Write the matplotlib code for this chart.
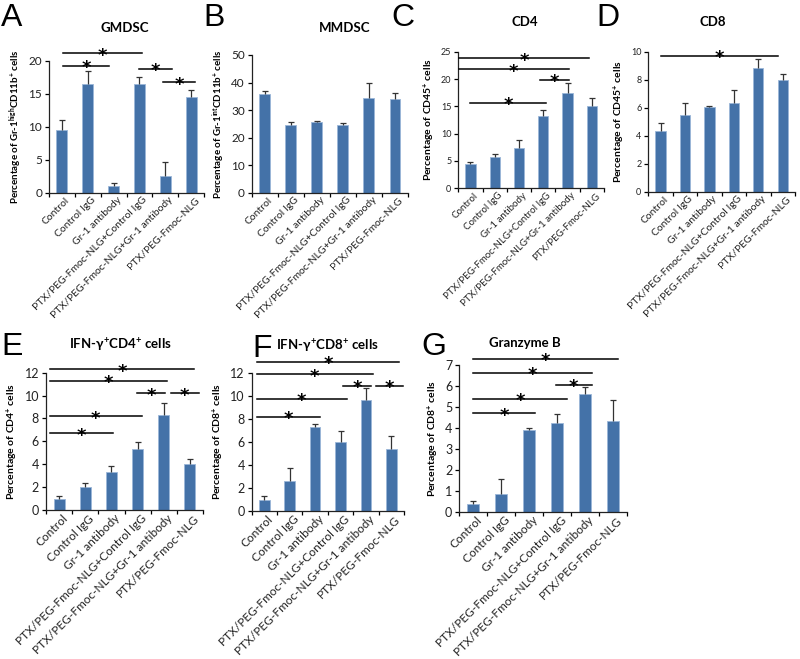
import numpy as np
import matplotlib
matplotlib.use("Agg")
import matplotlib.pyplot as plt

plt.rcParams['font.family'] = ['Lato', 'DejaVu Sans']
plt.rcParams['mathtext.fontset'] = 'custom'
plt.rcParams['mathtext.rm'] = 'Lato'
plt.rcParams['mathtext.bf'] = 'Lato:bold'
plt.rcParams['mathtext.it'] = 'Lato:italic'

groups = ['Control', 'Control IgG', 'Gr-1 antibody',
          'PTX/PEG-Fmoc-NLG+Control IgG',
          'PTX/PEG-Fmoc-NLG+Gr-1 antibody',
          'PTX/PEG-Fmoc-NLG']

# mean values and upper error (SD) per panel
gmdsc = [9.5, 16.5, 1.0, 16.5, 2.6, 14.5]
gmdsc_err = [1.5, 2.0, 0.5, 1.0, 2.0, 1.0]
mmdsc = [36.0, 24.5, 25.7, 24.5, 34.5, 34.2]
mmdsc_err = [1.0, 1.2, 0.4, 0.7, 5.5, 2.0]
cd4 = [4.4, 5.8, 7.4, 13.3, 17.4, 15.1]
cd4_err = [0.4, 0.4, 1.5, 1.0, 1.8, 1.5]
cd8 = [4.3, 5.5, 6.05, 6.35, 8.8, 8.0]
cd8_err = [0.6, 0.85, 0.1, 0.9, 0.65, 0.4]
ifn_cd4 = [0.96, 2.04, 3.35, 5.3, 8.3, 4.0]
ifn_cd4_err = [0.29, 0.35, 0.52, 0.67, 1.08, 0.44]
ifn_cd8 = [0.9, 2.6, 7.34, 6.03, 9.64, 5.4]
ifn_cd8_err = [0.4, 1.1, 0.26, 0.93, 1.06, 1.15]
granzyme = [0.37, 0.83, 3.88, 4.23, 5.6, 4.33]
granzyme_err = [0.15, 0.73, 0.1, 0.43, 0.35, 1.0]

# significance bars: (start, end, height) in bar units / data units
sig_a = [(0.03, 3.1, 21.1), (0.03, 1.83, 19.2), (2.98, 4.25, 18.8), (3.9, 5.17, 16.7)]
sig_c = [(-0.48, 4.9, 23.8), (-0.48, 4.05, 21.8), (2.88, 4.05, 19.8), (0.0, 3.1, 15.7)]
sig_d = [(0.0, 4.8, 9.69)]
sig_e = [(-0.36, 5.17, 12.3), (-0.36, 4.11, 11.3), (2.97, 4.05, 10.2),
         (4.27, 5.33, 10.2), (-0.36, 3.16, 8.2), (-0.36, 2.07, 6.7)]
sig_f = [(-0.3, 5.32, 13.0), (-0.3, 4.27, 11.9), (3.1, 4.21, 10.9),
         (4.4, 5.48, 10.9), (-0.3, 3.25, 9.76), (-0.3, 2.21, 8.2)]
sig_g = [(0.0, 5.2, 7.28), (0.0, 4.26, 6.63), (2.95, 4.26, 6.04),
         (0.0, 3.36, 5.4), (0.0, 2.2, 4.69)]

W, H = 800, 659
fig = plt.figure(figsize=(8, 6.59), dpi=100)

BAR = '#4472A8'
EDGE = '#9AB6D8'


def make_ax(x0, x1, ytop, ybot):
    return fig.add_axes([x0 / W, (H - ybot) / H, (x1 - x0) / W, (ybot - ytop) / H])


def panel(box, vals, errs, ymax, ystep, title, ylabel, letter, sigs,
          tick_fs=8.5, lab_fs=7.5, cat_fs=8, title_xy=None, letter_xy=None):
    ax = make_ax(*box)
    x = np.arange(len(vals))
    bars = ax.bar(x, vals, width=0.42, color=BAR, edgecolor=EDGE, linewidth=0.6,
                  yerr=[np.zeros(len(errs)), errs],
                  error_kw=dict(ecolor='#333333', elinewidth=0.9, capsize=2, capthick=0.9),
                  zorder=2)
    caps = bars.errorbar.lines[1]
    if len(caps) > 1:
        caps[0].set_visible(False)
    ax.set_xlim(-0.5, len(vals) - 0.5)
    ax.set_ylim(0, ymax)
    ax.set_yticks(np.arange(0, ymax + ystep / 2, ystep))
    ax.set_xticks(np.arange(-0.5, len(vals), 1.0))
    ax.set_xticklabels([])
    ax.set_xticks(x + 0.12, minor=True)
    ax.set_xticklabels(groups, minor=True, rotation=45, ha='right',
                       rotation_mode='anchor', fontsize=cat_fs, color='#222222')
    ax.tick_params(axis='x', which='minor', length=0, pad=2)
    ax.tick_params(axis='x', which='major', length=3, direction='out', width=0.9)
    ax.tick_params(axis='y', length=3, direction='out', width=0.9,
                   labelsize=tick_fs, labelcolor='#222222', pad=2)
    for s in ['top', 'right']:
        ax.spines[s].set_visible(False)
    for s in ['left', 'bottom']:
        ax.spines[s].set_linewidth(0.9)
        ax.spines[s].set_color('#222222')
    ax.set_ylabel(ylabel, fontsize=lab_fs, fontweight='bold', labelpad=3)
    for (a, b, h) in sigs:
        ax.plot([a, b], [h, h], color='black', lw=1.1, clip_on=False, zorder=3)
        ax.annotate('*', xy=((a + b) / 2, h), xytext=(0, -5.3), textcoords='offset points',
                    ha='center', va='baseline', fontsize=13, fontweight='bold',
                    family='DejaVu Sans', annotation_clip=False)
    fig.text(title_xy[0] / W, 1 - title_xy[1] / H, title, ha='center', va='center',
             fontsize=9.5, fontweight='bold')
    fig.text(letter_xy[0] / W, 1 - letter_xy[1] / H, letter, ha='left', va='center',
             fontsize=23, family='Liberation Sans')
    return ax


panel((49, 204, 60.7, 192.7), gmdsc, gmdsc_err, 20, 5, 'GMDSC',
      r'Percentage of Gr-1$^{\mathbf{high}}$CD11b$^{\mathbf{+}}$ cells', 'A', sig_a,
      tick_fs=8.5, lab_fs=7, cat_fs=7.5, title_xy=(125, 28), letter_xy=(1, 18))
panel((251.7, 408, 55, 192.7), mmdsc, mmdsc_err, 50, 10, 'MMDSC',
      r'Percentage of Gr-1$^{\mathbf{int}}$CD11b$^{\mathbf{+}}$ cells', 'B', [],
      tick_fs=8.5, lab_fs=7, cat_fs=7.5, title_xy=(345, 28), letter_xy=(203, 18))
panel((458.3, 604, 51.7, 188.3), cd4, cd4_err, 25, 5, 'CD4',
      r'Percentage of CD45$^{\mathbf{+}}$ cells', 'C', sig_c,
      tick_fs=6.5, lab_fs=7.5, cat_fs=7, title_xy=(525, 22), letter_xy=(391, 18))
panel((648.3, 795, 51.7, 191.7), cd8, cd8_err, 10, 2, 'CD8',
      r'Percentage of CD45$^{\mathbf{+}}$ cells', 'D', sig_d,
      tick_fs=6.5, lab_fs=7.5, cat_fs=7.5, title_xy=(713, 22), letter_xy=(596, 18))
panel((46, 203, 372.7, 510), ifn_cd4, ifn_cd4_err, 12, 2,
      r'IFN-γ$^{\mathbf{+}}$CD4$^{\mathbf{+}}$ cells',
      r'Percentage of CD4$^{\mathbf{+}}$ cells', 'E', sig_e,
      tick_fs=9, lab_fs=7.5, cat_fs=8.6, title_xy=(120, 345), letter_xy=(1, 347))
panel((251.7, 404, 373.3, 510.7), ifn_cd8, ifn_cd8_err, 12, 2,
      r'IFN-γ$^{\mathbf{+}}$CD8$^{\mathbf{+}}$ cells',
      r'Percentage of CD8$^{\mathbf{+}}$ cells', 'F', sig_f,
      tick_fs=9, lab_fs=7.5, cat_fs=8.6, title_xy=(327, 346), letter_xy=(252, 349))
panel((459.3, 626.7, 365, 511.7), granzyme, granzyme_err, 7, 1, 'Granzyme B',
      r'Percentage of CD8$^{\mathbf{+}}$ cells', 'G', sig_g,
      tick_fs=9, lab_fs=7.5, cat_fs=8.6, title_xy=(525, 343), letter_xy=(421, 347))

fig.savefig('out.png', dpi=100)
